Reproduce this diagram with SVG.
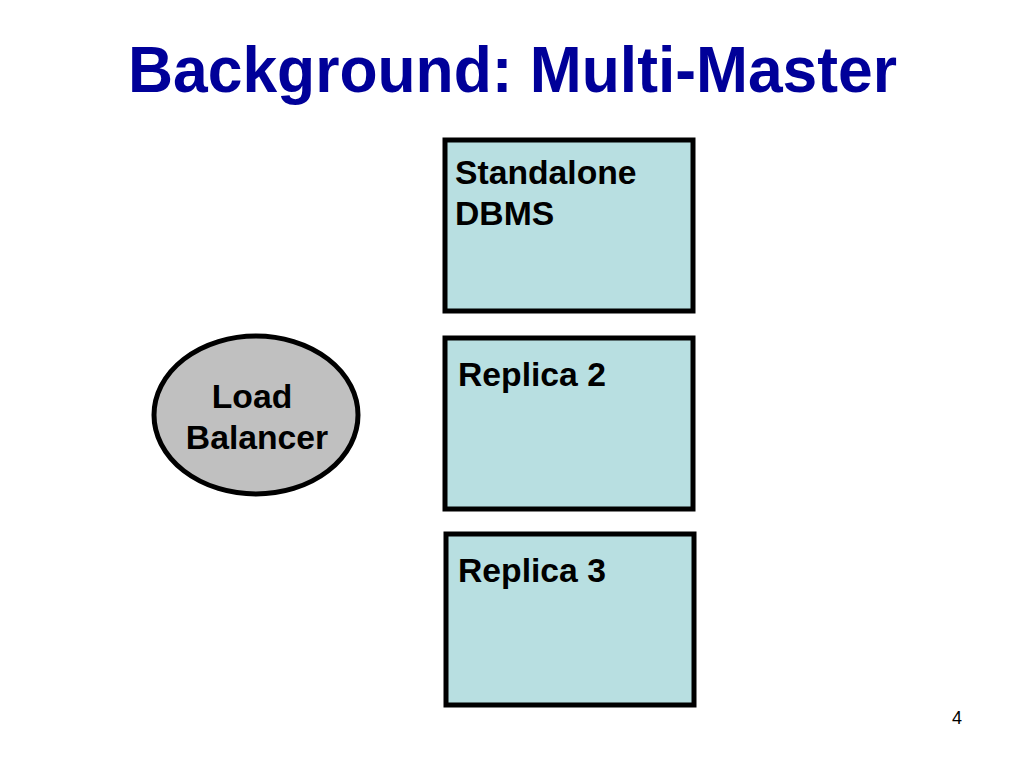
<svg xmlns="http://www.w3.org/2000/svg" width="1024" height="768" viewBox="0 0 1024 768">
<style>
.box{fill:#b8dfe1;stroke:#000;stroke-width:5}
.ell{fill:#c0c0c0;stroke:#000;stroke-width:5}
.lbl{font-family:"Liberation Sans",Arial,sans-serif;font-weight:bold;font-size:33.7px;fill:#000}
.title{font-family:"Liberation Sans Narrow","Liberation Sans",Arial,sans-serif;font-weight:bold;font-size:64px;fill:#000099}
</style>
<rect width="1024" height="768" fill="#fff"/>
<text class="title" x="128" y="92" textLength="769" lengthAdjust="spacingAndGlyphs">Background: Multi-Master</text>
<g id="standalone">
<rect class="box" x="445" y="140" width="248" height="171"/>
<text class="lbl" x="455" y="184">Standalone</text>
<text class="lbl" x="455" y="225">DBMS</text>
</g>
<g id="replica2">
<rect class="box" x="445" y="338" width="248" height="171"/>
<text class="lbl" x="458" y="386">Replica 2</text>
</g>
<g id="replica3">
<rect class="box" x="446" y="534" width="248" height="171"/>
<text class="lbl" x="458" y="582">Replica 3</text>
</g>
<g id="loadbalancer">
<ellipse class="ell" cx="256" cy="415" rx="102" ry="79"/>
<text class="lbl" x="252" y="408" text-anchor="middle">Load</text>
<text class="lbl" x="257" y="449" text-anchor="middle">Balancer</text>
</g>
<g id="connectors"></g>
<text x="957" y="724" text-anchor="middle" style="font-family:'Liberation Sans',Arial,sans-serif;font-size:18px;fill:#000">4</text>
</svg>
